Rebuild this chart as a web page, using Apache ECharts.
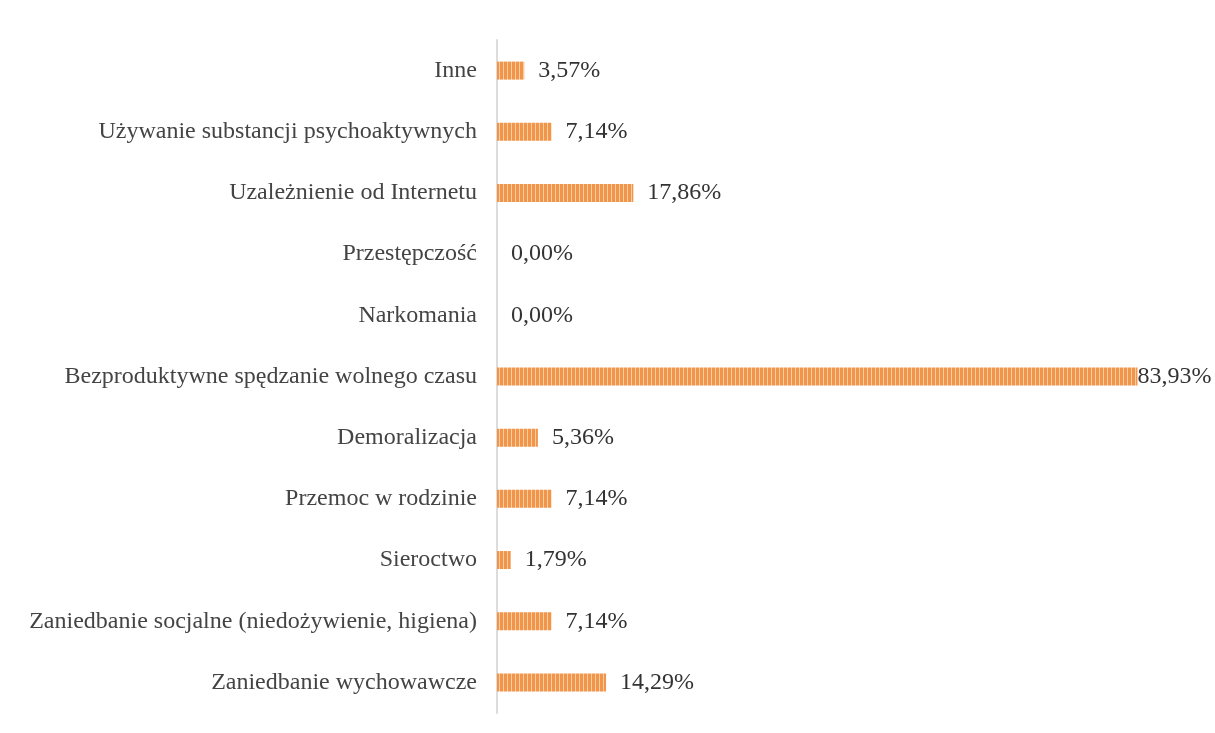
<!DOCTYPE html>
<html><head><meta charset="utf-8">
<script src="https://cdn.jsdelivr.net/npm/echarts@6/dist/echarts.min.js"></script>
<style>html,body{margin:0;padding:0;background:#fff}#c{width:1215px;height:733px}</style>
</head><body><div id="c"></div>
<script>
const categories = [
  "Zaniedbanie wychowawcze",
  "Zaniedbanie socjalne (niedożywienie, higiena)",
  "Sieroctwo",
  "Przemoc w rodzinie",
  "Demoralizacja",
  "Bezproduktywne spędzanie wolnego czasu",
  "Narkomania",
  "Przestępczość",
  "Uzależnienie od Internetu",
  "Używanie substancji psychoaktywnych",
  "Inne"
];
const values = [14.29, 7.14, 1.79, 7.14, 5.36, 83.93, 0.00, 0.00, 17.86, 7.14, 3.57];

const pc = document.createElement('canvas');
pc.width = 4; pc.height = 4;
const g = pc.getContext('2d');
g.fillStyle = '#f8cf9c'; g.fillRect(0,0,4,4);
g.fillStyle = '#f1954c'; g.fillRect(0,0,3,4);

const chart = echarts.init(document.getElementById('c'));
chart.setOption({
  backgroundColor: '#fff',
  animation: false,
  grid: { left: 497, right: 77, top: 40, bottom: 20, containLabel: false },
  xAxis: { type: 'value', min: 0, max: 84, show: false },
  yAxis: {
    type: 'category', data: categories,
    axisLine: { show: true, lineStyle: { color: '#dcdcdc', width: 2 } },
    axisTick: { show: false },
    axisLabel: { fontFamily: 'Liberation Serif', fontSize: 24, color: '#444', margin: 20 }
  },
  series: [{
    type: 'bar',
    data: values.map((v, i) => ({ value: v, label: { distance: v > 80 ? 0 : 14 } })),
    barWidth: 18,
    itemStyle: { color: { image: pc, repeat: 'repeat' } },
    label: {
      show: true, position: 'right',
      fontFamily: 'Liberation Serif', fontSize: 24, color: '#333',
      formatter: p => p.value.toFixed(2).replace('.', ',') + '%'
    }
  }]
});
</script></body></html>
